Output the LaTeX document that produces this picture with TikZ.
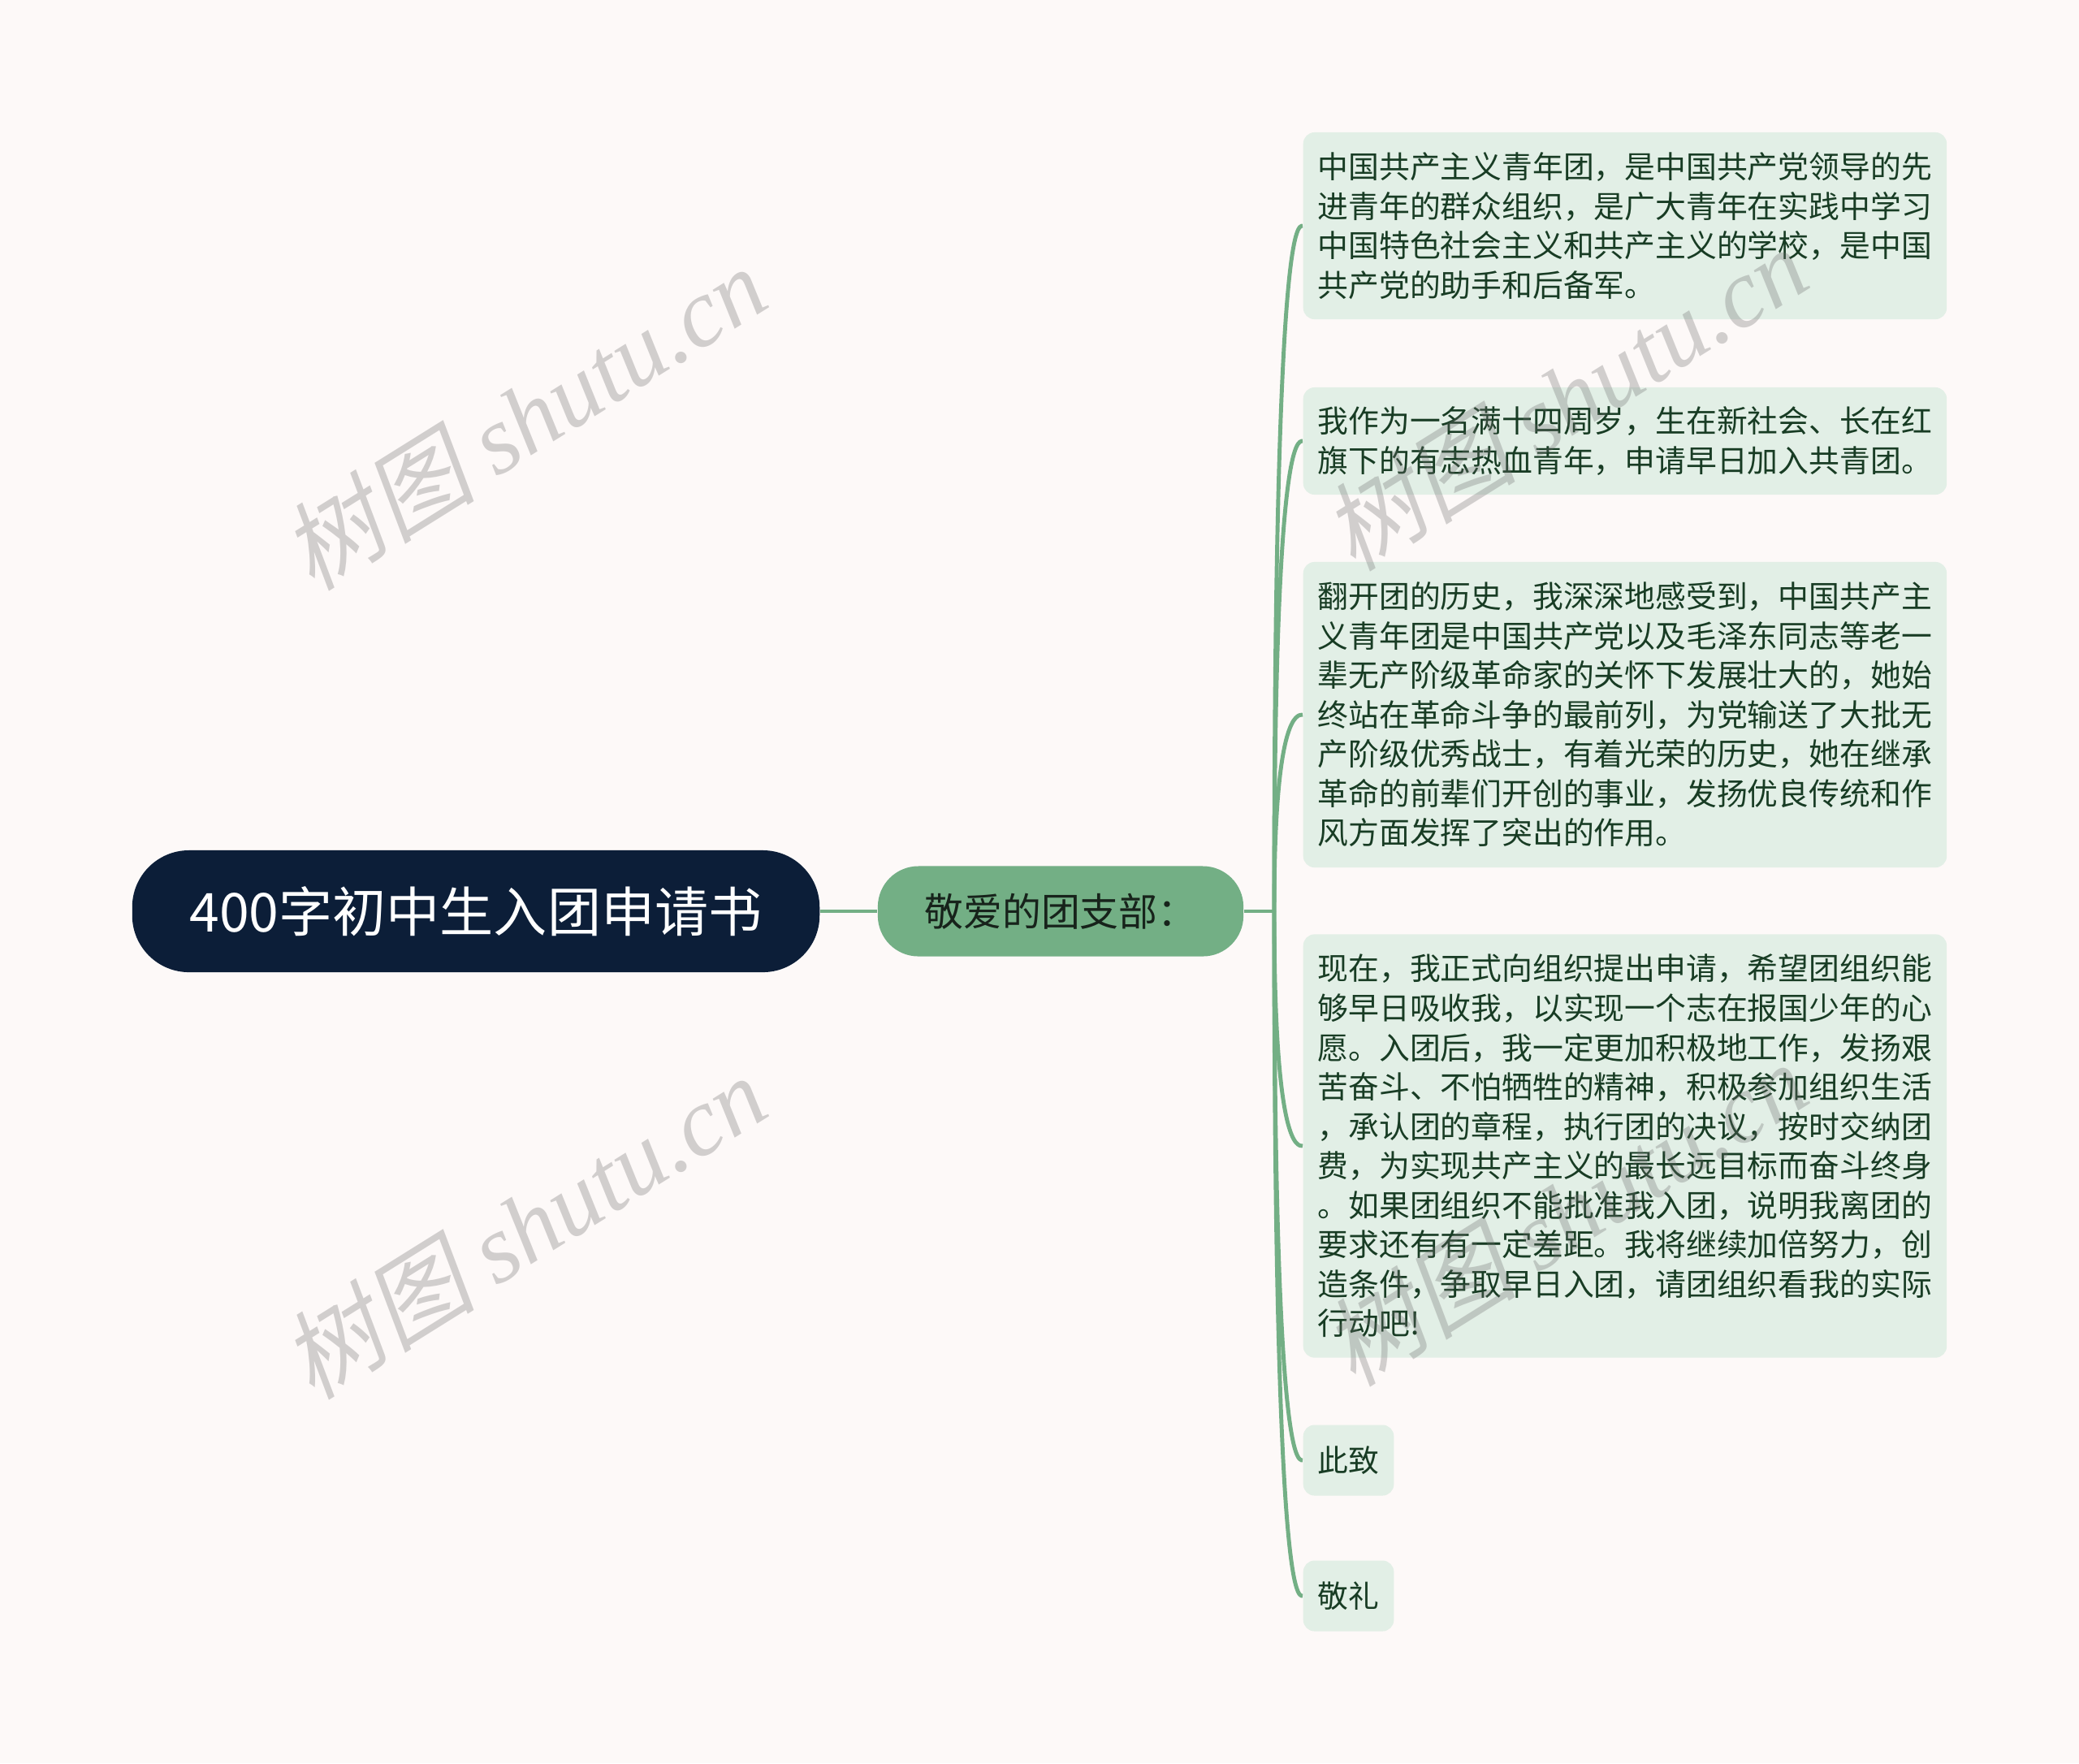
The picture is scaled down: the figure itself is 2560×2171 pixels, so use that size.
\documentclass[tikz,border=0pt]{standalone}
\usepackage{fontspec}
\setmainfont{Noto Sans CJK SC}
\newfontfamily\markcjk[FakeSlant=0.2]{Noto Sans CJK SC}
\newfontfamily\markfont{Liberation Serif}
\usetikzlibrary{positioning,calc}
\definecolor{mybg}{RGB}{253,249,248}
\definecolor{mynavy}{RGB}{12,30,56}
\definecolor{mygreen}{RGB}{115,175,133}
\definecolor{myleaf}{RGB}{226,239,230}
\definecolor{myink}{RGB}{24,60,36}
\definecolor{mymark}{RGB}{110,108,108}

\tikzset{
  root/.style={fill=mynavy, text=white, rounded corners=0.7cm, minimum width=8.46cm,
    minimum height=1.5cm, inner sep=0pt, font=\fontsize{18.8pt}{22pt}\selectfont},
  branch/.style={fill=mygreen, text=black!80!mygreen, rounded corners=0.5cm, minimum width=4.5cm,
    minimum height=1.11cm, inner sep=0pt, font=\fontsize{13.6pt}{16pt}\selectfont},
  leaf/.style={fill=myleaf, text=myink, rounded corners=0.14cm, anchor=west,
    inner xsep=0.18cm, inner ysep=0.05cm, font=\fontsize{10.75pt}{13.8pt}\selectfont},
  note/.style={leaf, text width=7.56cm, align=left},
  link/.style={draw=mygreen, line width=1.4pt},
  stamp/.style={text=mymark, text opacity=0.3, rotate=32, inner sep=0pt,
    font=\fontsize{34pt}{34pt}\selectfont}
}

\begin{document}
\begin{tikzpicture}[x=0.01cm, y=-0.01cm]

\fill [mybg] (0,0) rectangle (2560,2171);
\useasboundingbox (0,0) rectangle (2560,2171);

%%%%%%%%%%%%%%% centre %%%%%%%%%%%%%%%%
\node [root] (title) at (586,1122) {400字初中生入团申请书};
\node [branch] (dear) at (1306,1122) {敬爱的团支部：};
\coordinate (hub) at (1569,1122);

%%%%%%%%%%%%%%% leaves %%%%%%%%%%%%%%%%
\node [note, minimum height=2.30cm] (p1) at (1604,278) {中国共产主义青年团，是中国共产党领导的先\\进青年的群众组织，是广大青年在实践中学习\\中国特色社会主义和共产主义的学校，是中国\\共产党的助手和后备军。};
\node [note, minimum height=1.32cm] (p2) at (1604,543) {我作为一名满十四周岁，生在新社会、长在红\\旗下的有志热血青年，申请早日加入共青团。};
\node [note, minimum height=3.76cm] (p3) at (1604,880) {翻开团的历史，我深深地感受到，中国共产主\\义青年团是中国共产党以及毛泽东同志等老一\\辈无产阶级革命家的关怀下发展壮大的，她始\\终站在革命斗争的最前列，为党输送了大批无\\产阶级优秀战士，有着光荣的历史，她在继承\\革命的前辈们开创的事业，发扬优良传统和作\\风方面发挥了突出的作用。};
\node [note, minimum height=5.21cm] (p4) at (1604,1411) {现在，我正式向组织提出申请，希望团组织能\\够早日吸收我，以实现一个志在报国少年的心\\愿。入团后，我一定更加积极地工作，发扬艰\\苦奋斗、不怕牺牲的精神，积极参加组织生活\\，承认团的章程，执行团的决议，按时交纳团\\费，为实现共产主义的最长远目标而奋斗终身\\。如果团组织不能批准我入团，说明我离团的\\要求还有有一定差距。我将继续加倍努力，创\\造条件，争取早日入团，请团组织看我的实际\\行动吧!};
\node [leaf, minimum height=0.87cm] (p5) at (1604,1798) {此致};
\node [leaf, minimum height=0.87cm] (p6) at (1604,1965) {敬礼};

%%%%%%%%%%%%%%% links %%%%%%%%%%%%%%%%
\draw [link] (title) -- (dear);
\draw [link] (dear.east) -- (hub);
\foreach \n in {p1,p2,p3,p4,p5,p6}
	\draw [link] (hub) .. controls (hub |- \n.west) and ($(hub |- \n.west)+(28,0)$) .. (\n.west);

%%%%%%%%%%%%%%% watermark %%%%%%%%%%%%%%%%
\foreach \p [count=\i] in {(645,514),(645,1510),(1927,490),(1927,1494)}
	\node [stamp] (stamp\i) at \p {\markcjk 树图 {\markfont\itshape shutu.cn}};

\end{tikzpicture}
\end{document}
